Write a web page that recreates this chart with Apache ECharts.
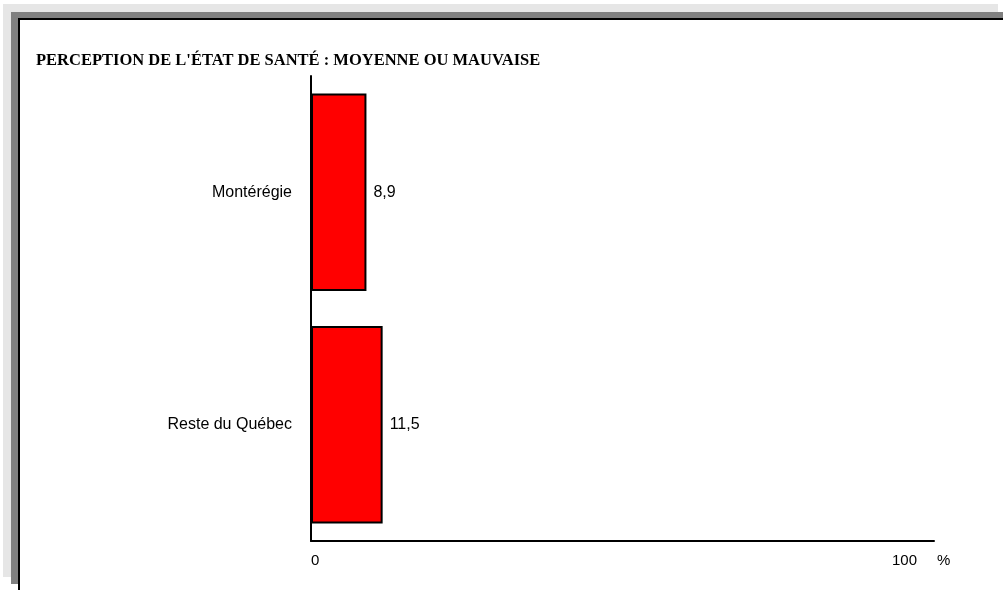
<!DOCTYPE html>
<html>
<head>
<meta charset="utf-8">
<script src="https://cdn.jsdelivr.net/npm/echarts@6/dist/echarts.min.js"></script>
<style>html,body{margin:0;padding:0;background:#fff;}#c{width:1003px;height:590px;}</style>
</head>
<body>
<div id="c"></div>
<script>
var titleText = "PERCEPTION DE L'ÉTAT DE SANTÉ : MOYENNE OU MAUVAISE";
var categories = ["Montérégie", "Reste du Québec"];
var values = [8.9, 11.5];
var axisMin = 0, axisMax = 100;
var unitLabel = "%";

var chart = echarts.init(document.getElementById('c'), null, {renderer: 'canvas'});
chart.setOption({
  animation: false,
  backgroundColor: '#ffffff',
  graphic: {
    elements: [
      {type: 'rect', z: -100, shape: {x: 3, y: 4, width: 995, height: 573}, style: {fill: '#e6e6e6'}},
      {type: 'rect', z: -99, shape: {x: 11, y: 12, width: 1000, height: 572}, style: {fill: '#808080'}},
      {type: 'rect', z: -98, shape: {x: 19, y: 19, width: 1000, height: 600}, style: {fill: '#ffffff', stroke: '#000000', lineWidth: 2}}
    ]
  },
  title: {
    text: titleText,
    left: 31,
    top: 47,
    textStyle: {fontFamily: 'Liberation Serif', fontWeight: 'bold', fontSize: 16.5, color: '#000'}
  },
  grid: {left: 311, right: 69, top: 76, bottom: 49, containLabel: false},
  xAxis: {
    type: 'value',
    min: axisMin,
    max: axisMax,
    interval: 100,
    name: unitLabel,
    nameLocation: 'end',
    nameGap: 3,
    nameTextStyle: {fontFamily: 'Liberation Sans', fontSize: 15, color: '#000', align: 'left', verticalAlign: 'top', padding: [12, 0, 0, 0]},
    axisLine: {show: true, lineStyle: {color: '#000', width: 2}},
    axisTick: {show: false},
    splitLine: {show: false},
    axisLabel: {
      margin: 12,
      fontFamily: 'Liberation Sans', fontSize: 15, color: '#000',
      alignMinLabel: 'left',
      alignMaxLabel: 'right',
      formatter: function (v) { return v === axisMax ? '{r|' + v + '}' : '' + v; },
      rich: {r: {fontFamily: 'Liberation Sans', fontSize: 15, color: '#000', padding: [0, 17, 0, 0]}}
    }
  },
  yAxis: {
    type: 'category',
    data: categories,
    inverse: true,
    axisLine: {show: true, lineStyle: {color: '#000', width: 2}},
    axisTick: {show: false},
    splitLine: {show: false},
    axisLabel: {margin: 19, fontFamily: 'Liberation Sans', fontSize: 16, color: '#000'}
  },
  series: [{
    type: 'bar',
    data: values,
    barCategoryGap: '15%',
    itemStyle: {color: '#ff0000', borderColor: '#000', borderWidth: 2},
    label: {
      show: true,
      position: 'right',
      distance: 7,
      fontFamily: 'Liberation Sans', fontSize: 16, color: '#000',
      formatter: function (p) { return String(p.value).replace('.', ','); }
    }
  }]
});
</script>
</body>
</html>
